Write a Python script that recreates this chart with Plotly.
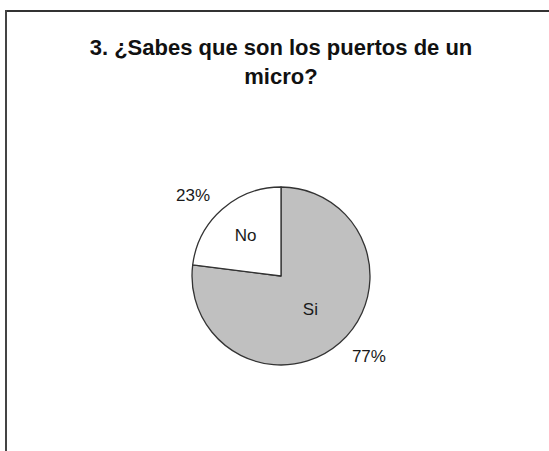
import plotly.graph_objects as go

labels = ["Si", "No"]
values = [77, 23]
colors = ["#C0C0C0", "#FFFFFF"]
title_text = "3. ¿Sabes que son los puertos de un<br>micro?"

W, H = 549, 451
cx, cy, r = 281, 276, 89
r_out = 100  # radius of the invisible ring that carries the outside percentages


def dom(rad):
    return dict(x=[(cx - rad) / W, (cx + rad) / W],
                y=[(H - cy - rad) / H, (H - cy + rad) / H])


font_family = "Liberation Sans, Arial, sans-serif"

fig = go.Figure()
fig.add_trace(go.Pie(
    labels=labels, values=values, sort=False, direction="clockwise",
    rotation=0, domain=dom(r),
    marker=dict(colors=colors, line=dict(color="#333333", width=1.3)),
    textinfo="label", textposition="inside", insidetextorientation="horizontal",
    textfont=dict(family=font_family, size=17, color="#1a1a1a"),
    showlegend=False, hoverinfo="label+percent",
))
fig.add_trace(go.Pie(
    labels=labels, values=values, sort=False, direction="clockwise",
    rotation=0, domain=dom(r_out),
    marker=dict(colors=["rgba(0,0,0,0)"] * 2, line=dict(width=0)),
    texttemplate="%{percent:.0%}", textposition="outside",
    textfont=dict(family=font_family, size=17, color="#1a1a1a"),
    showlegend=False, hoverinfo="skip",
))

fig.update_layout(
    width=W, height=H,
    margin=dict(l=0, r=0, t=0, b=0),
    paper_bgcolor="white",
    title=dict(
        text=title_text, x=cx / W, xanchor="center",
        y=1 - 55 / H, yanchor="middle", yref="container",
        font=dict(family=font_family, size=22, color="#111111", weight="bold"),
    ),
    shapes=[
        dict(type="line", xref="paper", yref="paper", x0=6 / W, x1=1.02,
             y0=1 - 11 / H, y1=1 - 11 / H, line=dict(color="#333333", width=2)),
        dict(type="line", xref="paper", yref="paper", x0=6 / W, x1=6 / W,
             y0=1 - 10 / H, y1=-0.02, line=dict(color="#444444", width=2)),
    ],
)

fig.write_html("out.html")
